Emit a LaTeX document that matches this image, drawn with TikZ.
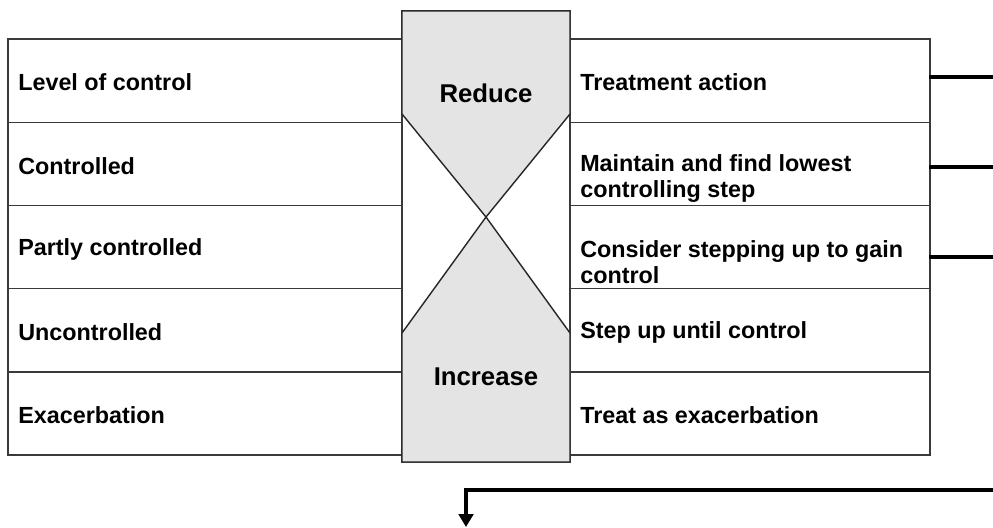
\documentclass[tikz,border=0pt]{standalone}
\usepackage{fontspec}
\setmainfont{Liberation Sans}
\usetikzlibrary{arrows.meta,positioning,calc}
\definecolor{GridGray}{HTML}{3A3A3A}
\definecolor{ShadeGray}{HTML}{E4E4E4}
\tikzset{
    every node/.style={font=\fontsize{16.6}{18.6}\selectfont\bfseries},
    celltext/.style={anchor=west, align=left, inner sep=0pt},
    bigtext/.style={font=\fontsize{18.3}{20}\selectfont\bfseries},
    gridline/.style={draw=GridGray, line width=1pt},
    shadepart/.style={fill=ShadeGray, draw=black!85, line width=1pt, line join=round},
    flowline/.style={line width=2.5pt, black},
}

\begin{document}
\begin{tikzpicture}[x=0.025cm, y=-0.025cm]
    \useasboundingbox (0,0) rectangle (993,527);

    % Left table
    \draw[gridline] (8,39) rectangle (402,455);
    \foreach \y in {122.2,205.4,288.6,371.8}
        \draw[gridline] (8,\y) -- (402,\y);

    % Right table
    \draw[gridline] (570,39) rectangle (930,455);
    \foreach \y in {122.2,205.4,288.6,371.8}
        \draw[gridline] (570,\y) -- (930,\y);

    % Hourglass
    \draw[gridline, fill=white] (402,11) rectangle (570,462);
    \coordinate (waist) at (486,217);
    \draw[shadepart] (402,11) -- (570,11) -- (570,114) -- (waist) -- (402,114) -- cycle;
    \draw[shadepart] (402,462) -- (570,462) -- (570,333) -- (waist) -- (402,333) -- cycle;
    \node[bigtext] (reduce) at (486,93) {Reduce};
    \node[bigtext] (increase) at (486,377) {Increase};

    % Level of control
    \node[celltext] (level) at (18,82.6) {Level of control};
    \node[celltext] (controlled) at (18,165.8) {Controlled};
    \node[celltext] (partly) at (18,249) {Partly controlled};
    \node[celltext] (uncontrolled) at (18,332.2) {Uncontrolled};
    \node[celltext] (exacerbation) at (18,415.4) {Exacerbation};

    % Treatment action
    \node[celltext] (treatment) at (580,82.6) {Treatment action};
    \node[celltext] (maintain) at (580,178.8) {Maintain and find lowest\\controlling step};
    \node[celltext] (consider) at (580,262) {Consider stepping up to gain\\control};
    \node[celltext] (stepup) at (580,332.2) {Step up until control};
    \node[celltext] (treat) at (580,415.4) {Treat as exacerbation};

    % Outgoing lines
    \coordinate (treatIn) at (929,77);
    \coordinate (treatOut) at (993,77);
    \coordinate (maintainIn) at (929,167);
    \coordinate (maintainOut) at (993,167);
    \coordinate (considerIn) at (929,257);
    \coordinate (considerOut) at (993,257);
    \draw[flowline] (treatIn) -- (treatOut);
    \draw[flowline] (maintainIn) -- (maintainOut);
    \draw[flowline] (considerIn) -- (considerOut);

    % Return arrow
    \coordinate (backIn) at (993,490);
    \coordinate (backEnd) at (466,527);
    \draw[flowline, -{Triangle[length=0.32cm, width=0.36cm]}] (backIn) -| (backEnd);
\end{tikzpicture}
\end{document}
